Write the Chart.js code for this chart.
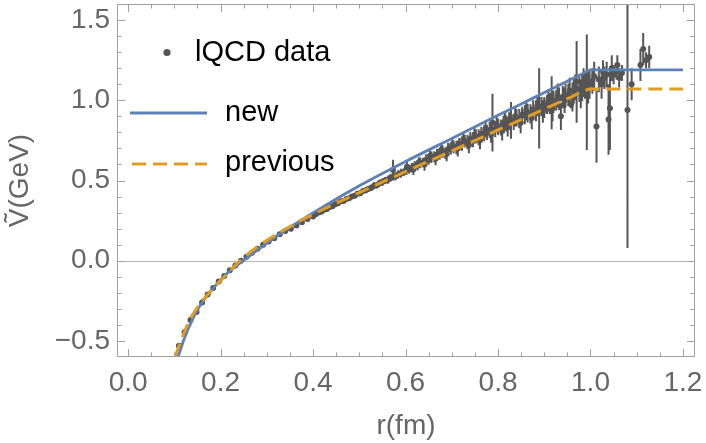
<!DOCTYPE html>
<html>
<head>
<meta charset="utf-8">
<script src="https://cdn.jsdelivr.net/npm/chart.js@4.4.1/dist/chart.umd.min.js"></script>
<style>
  html, body { margin: 0; padding: 0; background: #fff; }
</style>
</head>
<body>
<canvas id="potChart" width="706" height="443"></canvas>
<script>
// "new" model curve
const newR = [0.108, 0.122, 0.138, 0.156, 0.177, 0.21, 0.249, 0.29, 0.336, 0.415,
              0.502, 0.60, 0.70, 0.80, 0.869, 0.99, 1.00, 1.20];
const newV = [-0.60, -0.482, -0.373, -0.278, -0.195, -0.090, 0.0, 0.088, 0.182, 0.325,
              0.47, 0.618, 0.762, 0.906, 1.004, 1.176, 1.19, 1.19];

// "previous" model curve
const prevR = [0.1016, 0.116, 0.1326, 0.15, 0.18, 0.21, 0.242, 0.28, 0.33, 0.38,
               0.415, 0.50, 0.60, 0.70, 0.80, 0.90, 0.95, 0.98, 1.00, 1.20];
const prevV = [-0.60, -0.485, -0.373, -0.29, -0.185, -0.095, 0.0, 0.088, 0.18, 0.26,
               0.31, 0.425, 0.555, 0.685, 0.815, 0.945, 1.01, 1.05, 1.07, 1.07];

// lattice points with errors
const dataR = [
  0.110, 0.122, 0.135, 0.148, 0.160, 0.172, 0.184, 0.196, 0.208, 0.220,
  0.232, 0.244, 0.256, 0.268, 0.280, 0.292, 0.304, 0.316, 0.328, 0.340,
  0.352, 0.364, 0.376, 0.388, 0.400,
  0.406, 0.412, 0.418, 0.424, 0.430, 0.436, 0.442, 0.448, 0.454, 0.460,
  0.466, 0.472, 0.478, 0.484, 0.490, 0.496, 0.502, 0.508, 0.514, 0.520,
  0.526, 0.532, 0.538, 0.544, 0.550, 0.556, 0.562, 0.568, 0.573, 0.578,
  0.584, 0.590, 0.596, 0.602, 0.608, 0.614, 0.620, 0.626, 0.632, 0.638,
  0.644, 0.650, 0.656, 0.662, 0.668, 0.674, 0.680, 0.686, 0.692, 0.698,
  0.704, 0.710, 0.716, 0.722, 0.728, 0.734, 0.740, 0.746, 0.752, 0.758,
  0.764, 0.770, 0.776, 0.782, 0.788, 0.794, 0.800, 0.806, 0.812, 0.818,
  0.824, 0.828, 0.834, 0.840, 0.846, 0.852, 0.858, 0.864, 0.870, 0.876,
  0.882, 0.889, 0.894, 0.900, 0.906, 0.912, 0.916, 0.920, 0.926, 0.932,
  0.936, 0.940, 0.946, 0.952, 0.958, 0.964, 0.970, 0.976, 0.982, 0.988,
  0.992, 0.998, 1.004, 1.013, 1.018, 1.024, 1.030, 1.039, 1.042, 1.046,
  1.050, 1.056, 1.062, 1.068, 1.080, 1.089, 1.108, 1.114, 1.120, 1.127,
  0.603, 0.617, 0.629, 0.641, 0.653, 0.665, 0.677, 0.689, 0.701, 0.713,
  0.725, 0.737, 0.749, 0.761, 0.773, 0.785, 0.797, 0.809, 0.815, 0.821,
  0.837, 0.849, 0.861, 0.873, 0.885, 0.897, 0.909, 0.918, 0.929, 0.944,
  0.955, 0.961, 0.967, 0.979, 0.985, 0.995, 1.008, 1.027, 1.035, 1.058
];
const dataV = [
  -0.53, -0.445, -0.37, -0.32, -0.26, -0.21, -0.17, -0.13, -0.095, -0.06,
  -0.03, 0.0, 0.025, 0.05, 0.075, 0.10, 0.12, 0.14, 0.165, 0.185,
  0.20, 0.22, 0.24, 0.26, 0.275,
  0.29, 0.30, 0.305, 0.318, 0.322, 0.335, 0.34, 0.352, 0.358, 0.37,
  0.372, 0.385, 0.39, 0.40, 0.405, 0.418, 0.42, 0.435, 0.44, 0.448,
  0.455, 0.468, 0.47, 0.485, 0.49, 0.50, 0.505, 0.518, 0.565, 0.525,
  0.538, 0.545, 0.552, 0.565, 0.57, 0.58, 0.59, 0.592, 0.61, 0.612,
  0.628, 0.63, 0.645, 0.648, 0.66, 0.665, 0.68, 0.67, 0.695, 0.70,
  0.71, 0.705, 0.725, 0.73, 0.745, 0.74, 0.76, 0.755, 0.775, 0.77,
  0.79, 0.795, 0.80, 0.815, 0.86, 0.82, 0.835, 0.83, 0.85, 0.855,
  0.87, 0.875, 0.865, 0.89, 0.885, 0.905, 0.91, 0.92, 0.915, 0.94,
  0.935, 0.95, 0.96, 0.955, 0.975, 0.98, 0.985, 0.99, 1.00, 1.01,
  0.90, 1.02, 1.03, 1.035, 0.973, 1.055, 1.115, 1.07, 1.08, 1.09,
  1.05, 1.10, 1.12, 0.836, 1.13, 1.10, 1.14, 0.88, 0.95, 1.20,
  1.16, 1.18, 1.14, 1.17, 0.94, 1.10, 1.22, 1.32, 1.25, 1.27,
  0.585, 0.57, 0.615, 0.60, 0.655, 0.635, 0.69, 0.665, 0.72, 0.70,
  0.755, 0.72, 0.78, 0.75, 0.82, 0.79, 0.85, 0.81, 0.87, 0.835,
  0.90, 0.86, 0.935, 0.89, 0.965, 0.93, 1.00, 0.95, 1.03, 1.00,
  1.06, 1.02, 1.08, 1.04, 1.11, 1.08, 1.15, 1.18, 1.16, 1.22
];
const dataErr = [
  0.006, 0.006, 0.006, 0.006, 0.006, 0.006, 0.006, 0.006, 0.006, 0.006,
  0.006, 0.006, 0.006, 0.006, 0.007, 0.007, 0.007, 0.007, 0.007, 0.008,
  0.008, 0.008, 0.008, 0.008, 0.008,
  0.008, 0.010, 0.008, 0.012, 0.010, 0.012, 0.010, 0.014, 0.012, 0.015,
  0.012, 0.015, 0.014, 0.016, 0.015, 0.018, 0.016, 0.018, 0.020, 0.018,
  0.020, 0.022, 0.020, 0.022, 0.024, 0.022, 0.025, 0.024, 0.065, 0.025,
  0.026, 0.028, 0.025, 0.030, 0.028, 0.030, 0.032, 0.030, 0.034, 0.030,
  0.035, 0.032, 0.036, 0.034, 0.038, 0.035, 0.040, 0.036, 0.040, 0.038,
  0.040, 0.042, 0.040, 0.045, 0.040, 0.045, 0.042, 0.048, 0.045, 0.050,
  0.045, 0.050, 0.048, 0.050, 0.180, 0.050, 0.052, 0.050, 0.055, 0.050,
  0.055, 0.115, 0.050, 0.055, 0.060, 0.055, 0.060, 0.058, 0.060, 0.060,
  0.065, 0.250, 0.060, 0.065, 0.060, 0.065, 0.165, 0.070, 0.065, 0.070,
  0.085, 0.070, 0.075, 0.070, 0.025, 0.075, 0.255, 0.080, 0.085, 0.080,
  0.360, 0.090, 0.080, 0.225, 0.080, 0.090, 0.070, 0.220, 0.260, 0.080,
  0.060, 0.050, 0.060, 0.050, 0.860, 0.100, 0.100, 0.100, 0.050, 0.070,
  0.030, 0.035, 0.030, 0.040, 0.035, 0.040, 0.040, 0.045, 0.040, 0.050,
  0.045, 0.050, 0.050, 0.055, 0.050, 0.055, 0.050, 0.060, 0.055, 0.060,
  0.060, 0.065, 0.060, 0.070, 0.065, 0.070, 0.070, 0.080, 0.075, 0.080,
  0.080, 0.090, 0.080, 0.090, 0.090, 0.100, 0.090, 0.070, 0.080, 0.060
];

const xTicks = [0.0, 0.2, 0.4, 0.6, 0.8, 1.0, 1.2];
const yTicks = [-0.5, 0.0, 0.5, 1.0, 1.5];
const legendLabels = ["lQCD data", "new", "previous"];

const FONT = "'Liberation Sans', Arial, sans-serif";
const DATA_COL = "#555555";
const NEW_COL = "#5E81B5";
const PREV_COL = "#E19C24";
const FRAME_COL = "#a0a0a0";

function fmt(v) {
    if (Math.abs(v) < 1e-9) v = 0;
    return v.toFixed(1).replace("-", "\u2212");
}

// error bars: low/high pairs split by gaps
const barPts = [];
dataR.forEach((r, i) => {
    barPts.push({ x: r, y: dataV[i] - dataErr[i] });
    barPts.push({ x: r, y: dataV[i] + dataErr[i] });
    barPts.push({ x: r, y: null });
});

// frame with inward ticks on all four sides, plus the zero axis
const framePlugin = {
    id: "frame",
    beforeDatasetsDraw(chart) {
        const { ctx, chartArea: a, scales: { y } } = chart;
        const y0 = Math.round(y.getPixelForValue(0)) + 0.5;
        ctx.save();
        ctx.strokeStyle = "#b4b4b4";
        ctx.lineWidth = 1;
        ctx.beginPath();
        ctx.moveTo(a.left, y0);
        ctx.lineTo(a.right, y0);
        ctx.stroke();
        ctx.restore();
    },
    afterDatasetsDraw(chart) {
        const { ctx, chartArea: a, scales: { x, y } } = chart;
        ctx.save();
        ctx.strokeStyle = FRAME_COL;
        ctx.lineWidth = 1;
        ctx.strokeRect(a.left + 0.5, a.top + 0.5, a.right - a.left - 1, a.bottom - a.top - 1);

        ctx.beginPath();
        for (let k = 0; k <= 24; k++) {
            const v = k * 0.05;
            const len = (k % 4 === 0) ? 8 : 4.5;
            const px = Math.round(x.getPixelForValue(v)) + 0.5;
            if (px <= a.left || px >= a.right) continue;
            ctx.moveTo(px, a.bottom); ctx.lineTo(px, a.bottom - len);
            ctx.moveTo(px, a.top); ctx.lineTo(px, a.top + len);
        }
        for (let k = -6; k <= 16; k++) {
            const v = k * 0.1;
            const len = (k % 5 === 0) ? 8 : 4.5;
            const py = Math.round(y.getPixelForValue(v)) + 0.5;
            if (py <= a.top || py >= a.bottom) continue;
            ctx.moveTo(a.left, py); ctx.lineTo(a.left + len, py);
            ctx.moveTo(a.right, py); ctx.lineTo(a.right - len, py);
        }
        ctx.stroke();
        ctx.restore();
    }
};

// legend sits inside the plot, top left
const legendPlugin = {
    id: "insideLegend",
    afterDraw(chart) {
        const ctx = chart.ctx;
        ctx.save();
        ctx.font = "29px " + FONT;
        ctx.textBaseline = "middle";

        ctx.beginPath();
        ctx.fillStyle = DATA_COL;
        ctx.arc(167, 52.5, 3.6, 0, Math.PI * 2);
        ctx.fill();
        ctx.fillStyle = "#000";
        ctx.fillText(legendLabels[0], 195, 53);

        ctx.strokeStyle = NEW_COL;
        ctx.lineWidth = 2.8;
        ctx.beginPath();
        ctx.moveTo(130, 113); ctx.lineTo(207, 113);
        ctx.stroke();
        ctx.fillText(legendLabels[1], 225, 112.5);

        ctx.strokeStyle = PREV_COL;
        ctx.lineWidth = 3;
        ctx.setLineDash([14, 7]);
        ctx.beginPath();
        ctx.moveTo(132, 164); ctx.lineTo(207, 164);
        ctx.stroke();
        ctx.setLineDash([]);
        ctx.fillText(legendLabels[2], 225, 163);
        ctx.restore();
    }
};

const ctx = document.getElementById("potChart").getContext("2d");
new Chart(ctx, {
    type: "scatter",
    data: {
        datasets: [
            {
                label: "errors",
                data: barPts,
                showLine: true,
                spanGaps: false,
                borderColor: DATA_COL,
                borderWidth: 2,
                pointRadius: 0,
                order: 4
            },
            {
                label: legendLabels[0],
                data: dataR.map((r, i) => ({ x: r, y: dataV[i] })),
                showLine: false,
                pointRadius: 3,
                pointBackgroundColor: DATA_COL,
                pointBorderWidth: 0,
                order: 3
            },
            {
                label: legendLabels[1],
                data: newR.map((r, i) => ({ x: r, y: newV[i] })),
                showLine: true,
                borderColor: NEW_COL,
                borderWidth: 2.8,
                pointRadius: 0,
                cubicInterpolationMode: "monotone",
                order: 2
            },
            {
                label: legendLabels[2],
                data: prevR.map((r, i) => ({ x: r, y: prevV[i] })),
                showLine: true,
                borderColor: PREV_COL,
                borderWidth: 3,
                borderDash: [14, 7],
                pointRadius: 0,
                cubicInterpolationMode: "monotone",
                order: 1
            }
        ]
    },
    options: {
        responsive: false,
        animation: false,
        layout: { padding: { top: 1, right: 11, left: 0, bottom: 0 } },
        plugins: {
            legend: { display: false },
            tooltip: { enabled: false }
        },
        scales: {
            x: {
                type: "linear",
                min: -0.024,
                max: 1.226,
                afterBuildTicks: s => { s.ticks = xTicks.map(v => ({ value: v })); },
                afterFit: s => { s.height = 86; s.paddingLeft = 0; s.paddingRight = 0; },
                grid: { display: false, drawTicks: false },
                border: { display: false },
                ticks: {
                    color: "#666",
                    font: { family: FONT, size: 28 },
                    padding: 9,
                    maxRotation: 0,
                    autoSkip: false,
                    callback: v => fmt(v)
                },
                title: {
                    display: true,
                    text: "r(fm)",
                    color: "#666",
                    font: { family: FONT, size: 28 },
                    padding: { top: 0, bottom: 0 }
                }
            },
            y: {
                type: "linear",
                min: -0.6,
                max: 1.6,
                afterBuildTicks: s => { s.ticks = yTicks.map(v => ({ value: v })); },
                afterFit: s => { s.width = 117; s.paddingTop = 0; s.paddingBottom = 0; },
                grid: { display: false, drawTicks: false },
                border: { display: false },
                ticks: {
                    color: "#666",
                    font: { family: FONT, size: 28 },
                    padding: 7,
                    autoSkip: false,
                    callback: v => fmt(v)
                },
                title: {
                    display: true,
                    text: "\u1E7C(GeV)",
                    color: "#666",
                    font: { family: FONT, size: 28 },
                    padding: { top: 3, bottom: 0 }
                }
            }
        }
    },
    plugins: [framePlugin, legendPlugin]
});
</script>
</body>
</html>
